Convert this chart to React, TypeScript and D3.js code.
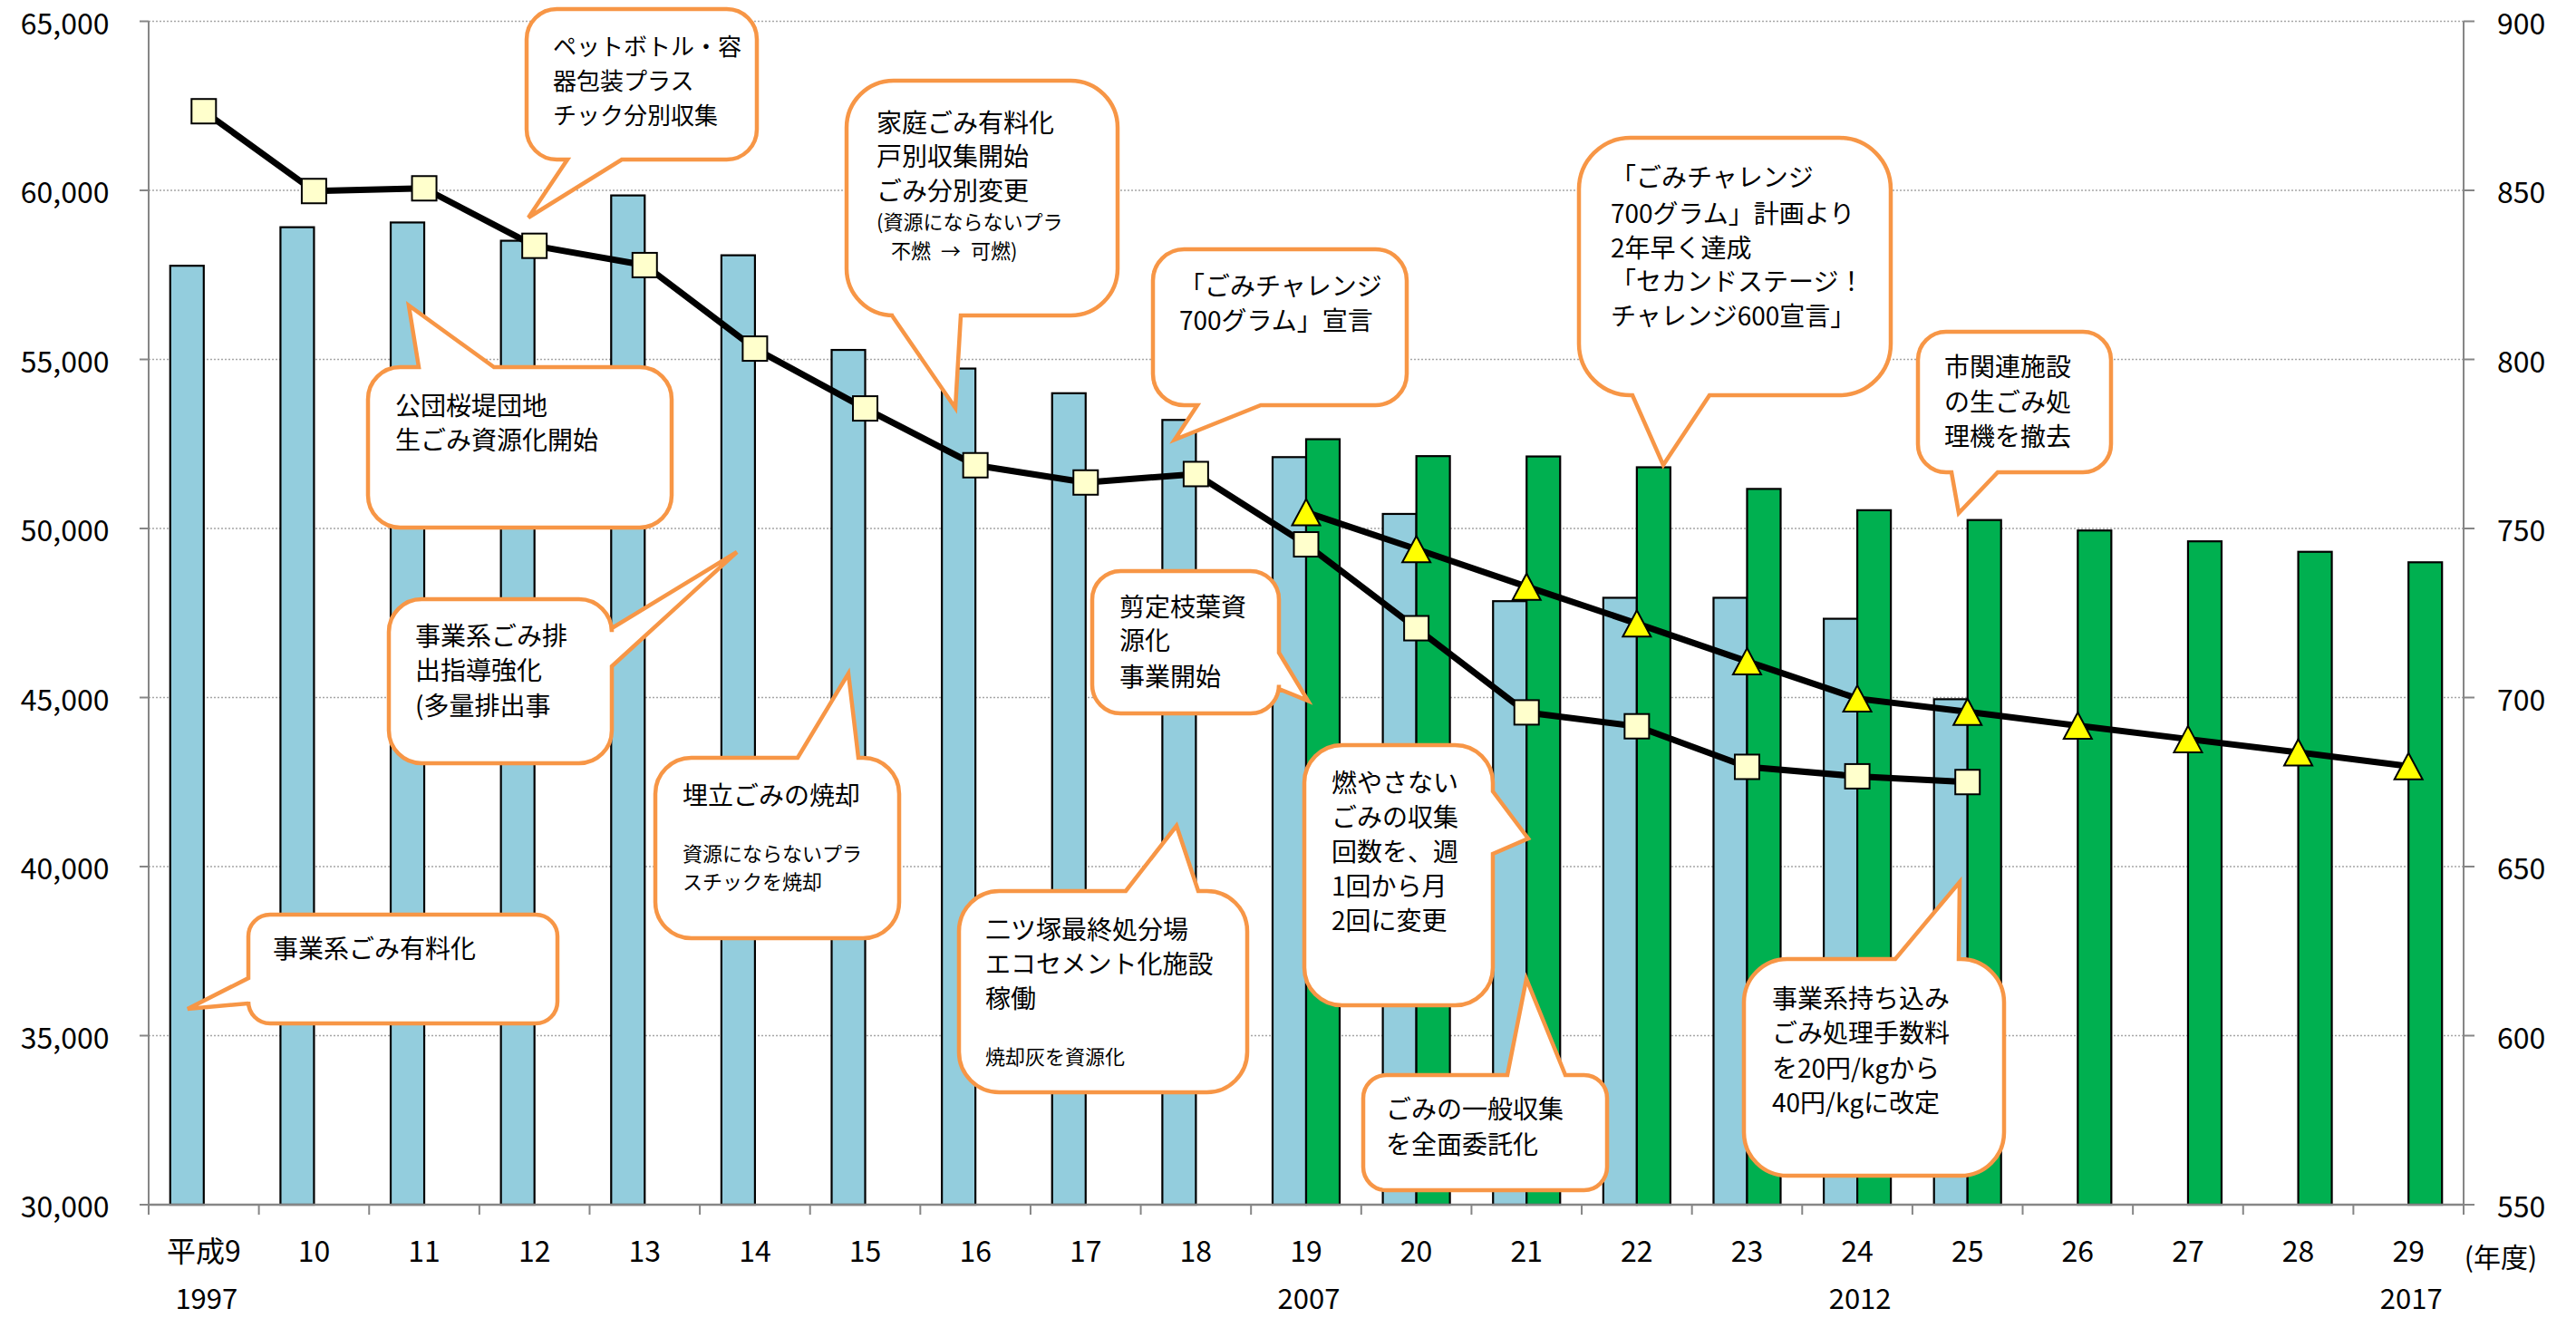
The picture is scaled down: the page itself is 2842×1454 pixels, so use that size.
import React from 'react';
import * as d3 from 'd3';

// 年度 (category axis)
const categories = ['平成9', '10', '11', '12', '13', '14', '15', '16', '17', '18', '19', '20', '21', '22', '23', '24', '25', '26', '27', '28', '29'];
const westernYears = ['1997', '', '', '', '', '', '', '', '', '', '2007', '', '', '', '', '2012', '', '', '', '', '2017'];

// left axis (t)
const totalWaste = [57770, 58910, 59050, 58510, 59850, 58080, 55280, 54730, 54000, 53210, 52110, 50430, 47850, 47950, 47950, 47330, 44950, null, null, null, null];
const totalWasteNew = [null, null, null, null, null, null, null, null, null, null, 52640, 52140, 52130, 51810, 51170, 50540, 50250, 49940, 49620, 49310, 49000];

// right axis (g)
const perCapita = [873.4, 849.8, 850.6, 833.6, 827.9, 803.2, 785.5, 768.7, 763.6, 766.1, 745.3, 720.5, 695.6, 691.5, 679.5, 676.7, 675.0, null, null, null, null];
const perCapitaNew = [null, null, null, null, null, null, null, null, null, null, 754.8, 743.9, 732.8, 721.9, 710.7, 699.7, 695.8, 691.7, 687.7, 683.8, 679.7];

const leftTicks = [30000, 35000, 40000, 45000, 50000, 55000, 60000, 65000];
const rightTicks = [550, 600, 650, 700, 750, 800, 850, 900];

const W = 2842;
const H = 1454;
const plot = { left: 164, right: 2718, top: 23.5, bottom: 1329 };
const FONT = "'Noto Sans CJK JP', 'Noto Sans', sans-serif";
const ORANGE = '#F79646';

type Line = { t: string; y: number; small?: boolean; dx?: number };
type Callout = {
  x: number; y: number; w: number; h: number;
  side: 'top' | 'bottom' | 'left' | 'right';
  b1: number; b2: number; tip: [number, number];
  tx: number; fs?: number; lines: Line[];
};

// speech-bubble annotations (layout in page pixels)
const callouts: Callout[] = [
  { x: 581, y: 10, w: 254, h: 166, side: 'bottom', b1: 626, b2: 686, tip: [583, 240], tx: 610, fs: 26,
    lines: [{ t: 'ペットボトル・容', y: 49 }, { t: '器包装プラス', y: 87 }, { t: 'チック分別収集', y: 125 }] },
  { x: 406, y: 405, w: 335, h: 177, side: 'top', b1: 462, b2: 545, tip: [451, 337], tx: 436,
    lines: [{ t: '公団桜堤団地', y: 446 }, { t: '生ごみ資源化開始', y: 484 }] },
  { x: 429, y: 661, w: 246, h: 181, side: 'right', b1: 693, b2: 735, tip: [813, 609], tx: 458,
    lines: [{ t: '事業系ごみ排', y: 700 }, { t: '出指導強化', y: 738 }, { t: '(多量排出事', y: 777 }] },
  { x: 723, y: 836, w: 269, h: 199, side: 'top', b1: 880, b2: 947, tip: [936, 743], tx: 753,
    lines: [{ t: '埋立ごみの焼却', y: 876 }, { t: '資源にならないプラ', y: 940, small: true }, { t: 'スチックを焼却', y: 971, small: true }] },
  { x: 274, y: 1009, w: 341, h: 120, side: 'left', b1: 1079, b2: 1107, tip: [207, 1113], tx: 301,
    lines: [{ t: '事業系ごみ有料化', y: 1045 }] },
  { x: 1058, y: 983, w: 318, h: 222, side: 'top', b1: 1242, b2: 1322, tip: [1298, 911], tx: 1087,
    lines: [{ t: '二ツ塚最終処分場', y: 1024 }, { t: 'エコセメント化施設', y: 1062 }, { t: '稼働', y: 1100 }, { t: '焼却灰を資源化', y: 1164, small: true }] },
  { x: 1439, y: 822, w: 208, h: 287, side: 'right', b1: 873, b2: 942, tip: [1686, 925], tx: 1469,
    lines: [{ t: '燃やさない', y: 862 }, { t: 'ごみの収集', y: 900 }, { t: '回数を、週', y: 938 }, { t: '1回から月', y: 976 }, { t: '2回に変更', y: 1014 }] },
  { x: 1504, y: 1186, w: 269, h: 127, side: 'top', b1: 1663, b2: 1727, tip: [1684, 1080], tx: 1529,
    lines: [{ t: 'ごみの一般収集', y: 1222 }, { t: 'を全面委託化', y: 1261 }] },
  { x: 1924, y: 1058, w: 287, h: 239, side: 'top', b1: 2091, b2: 2161, tip: [2162, 973], tx: 1955,
    lines: [{ t: '事業系持ち込み', y: 1100 }, { t: 'ごみ処理手数料', y: 1138 }, { t: 'を20円/kgから', y: 1177 }, { t: '40円/kgに改定', y: 1215 }] },
  { x: 2116, y: 366, w: 213, h: 155, side: 'bottom', b1: 2153, b2: 2204, tip: [2161, 566], tx: 2145,
    lines: [{ t: '市関連施設', y: 403 }, { t: 'の生ごみ処', y: 442 }, { t: '理機を撤去', y: 480 }] },
  { x: 1742, y: 152, w: 344, h: 284, side: 'bottom', b1: 1801, b2: 1886, tip: [1835, 513], tx: 1777,
    lines: [{ t: '「ごみチャレンジ', y: 194 }, { t: '700グラム」計画より', y: 234 }, { t: '2年早く達成', y: 272 }, { t: '「セカンドステージ！', y: 309 }, { t: 'チャレンジ600宣言」', y: 347 }] },
  { x: 1272, y: 275, w: 280, h: 172, side: 'bottom', b1: 1321, b2: 1391, tip: [1296, 485], tx: 1301,
    lines: [{ t: '「ごみチャレンジ', y: 314 }, { t: '700グラム」宣言', y: 352 }] },
  { x: 934, y: 89, w: 299, h: 259, side: 'bottom', b1: 984, b2: 1060, tip: [1054, 450], tx: 967,
    lines: [{ t: '家庭ごみ有料化', y: 134 }, { t: '戸別収集開始', y: 171 }, { t: 'ごみ分別変更', y: 209 },
      { t: '(資源にならないプラ', y: 243, small: true }, { t: '不燃\u2002→\u2002可燃)', y: 275, small: true, dx: 16 }] },
  { x: 1205, y: 630, w: 206, h: 157, side: 'right', b1: 720, b2: 760, tip: [1443, 773], tx: 1235,
    lines: [{ t: '剪定枝葉資', y: 668 }, { t: '源化', y: 705 }, { t: '事業開始', y: 745 }] },
];

function calloutPath(c: Callout) {
  const { x, y, w, h, side, b1, b2, tip } = c;
  const r = Math.min(w, h) * 0.2;
  const t = `L${tip[0]},${tip[1]}`;
  let d = `M${x + r},${y}`;
  if (side === 'top') d += `L${b1},${y}${t}L${b2},${y}`;
  d += `L${x + w - r},${y}A${r},${r} 0 0 1 ${x + w},${y + r}`;
  if (side === 'right') d += `L${x + w},${b1}${t}L${x + w},${b2}`;
  d += `L${x + w},${y + h - r}A${r},${r} 0 0 1 ${x + w - r},${y + h}`;
  if (side === 'bottom') d += `L${b2},${y + h}${t}L${b1},${y + h}`;
  d += `L${x + r},${y + h}A${r},${r} 0 0 1 ${x},${y + h - r}`;
  if (side === 'left') d += `L${x},${b2}${t}L${x},${b1}`;
  d += `L${x},${y + r}A${r},${r} 0 0 1 ${x + r},${y}Z`;
  return d;
}

export default function App() {
  const x0 = d3.scaleBand<string>().domain(categories).range([plot.left, plot.right]);
  const x1 = d3.scaleBand<string>().domain(['old', 'new']).range([0, x0.bandwidth()]).paddingOuter(0.643);
  const yL = d3.scaleLinear().domain([30000, 65000]).range([plot.bottom, plot.top]);
  const yR = d3.scaleLinear().domain([550, 900]).range([plot.bottom, plot.top]);
  const cx = (i: number) => (x0(categories[i]) as number) + x0.bandwidth() / 2;

  const lineGen = d3.line<number | null>()
    .defined(d => d != null)
    .x((_, i) => cx(i))
    .y(d => yR(d as number));

  const boundaries = categories.map(c => x0(c) as number).concat([plot.right]);

  const bar = (vals: (number | null)[], key: string, fill: string) =>
    vals.map((v, i) => v == null ? null : (
      <rect key={key + i}
        x={(x0(categories[i]) as number) + (x1(key) as number)}
        y={yL(v)}
        width={x1.bandwidth()}
        height={plot.bottom - yL(v)}
        fill={fill} stroke="#000" strokeWidth={2.2} />
    ));

  return (
    <svg width={W} height={H} style={{ position: 'absolute', left: 0, top: 0, background: '#fff' }} fontFamily={FONT}>
      <rect width={W} height={H} fill="#fff" />
      {/* gridlines */}
      {leftTicks.map(t => (
        <line key={'g' + t} x1={plot.left} x2={plot.right} y1={yL(t)} y2={yL(t)}
          stroke="#A6A6A6" strokeWidth={1.5} strokeDasharray="2,2" />
      ))}

      {/* bars */}
      {bar(totalWaste, 'old', '#93CDDD')}
      {bar(totalWasteNew, 'new', '#00B050')}

      {/* axes */}
      <line x1={plot.left} x2={plot.left} y1={plot.top} y2={plot.bottom + 11} stroke="#868686" strokeWidth={2} />
      <line x1={plot.right} x2={plot.right} y1={plot.top} y2={plot.bottom + 11} stroke="#868686" strokeWidth={2} />
      <line x1={plot.left} x2={plot.right} y1={plot.bottom} y2={plot.bottom} stroke="#868686" strokeWidth={2.5} />
      {leftTicks.map(t => (
        <g key={'lt' + t}>
          <line x1={plot.left - 10} x2={plot.left} y1={yL(t)} y2={yL(t)} stroke="#868686" strokeWidth={2} />
          <text x={120.5} y={yL(t)} textAnchor="end" dominantBaseline="central" fontSize={32} fill="#000">
            {d3.format(',')(t)}
          </text>
        </g>
      ))}
      {rightTicks.map(t => (
        <g key={'rt' + t}>
          <line x1={plot.right} x2={plot.right + 12} y1={yR(t)} y2={yR(t)} stroke="#868686" strokeWidth={2} />
          <text x={2755} y={yR(t)} textAnchor="start" dominantBaseline="central" fontSize={32} fill="#000">
            {t}
          </text>
        </g>
      ))}
      {boundaries.map((b, i) => (
        <line key={'bt' + i} x1={b} x2={b} y1={plot.bottom} y2={plot.bottom + 11} stroke="#868686" strokeWidth={2} />
      ))}
      {categories.map((c, i) => (
        <text key={'c' + i} x={cx(i)} y={1377.5} textAnchor="middle" dominantBaseline="central" fontSize={32} fill="#000">{c}</text>
      ))}
      {westernYears.map((c, i) => c ? (
        <text key={'y' + i} x={cx(i) + 3} y={1430} textAnchor="middle" dominantBaseline="central" fontSize={31} fill="#000">{c}</text>
      ) : null)}
      <text x={2759} y={1385} textAnchor="middle" dominantBaseline="central" fontSize={30} fill="#000">(年度)</text>

      {/* lines */}
      <path d={lineGen(perCapita) || ''} fill="none" stroke="#000" strokeWidth={7} strokeLinejoin="round" />
      <path d={lineGen(perCapitaNew) || ''} fill="none" stroke="#000" strokeWidth={7} strokeLinejoin="round" />
      {perCapita.map((v, i) => v == null ? null : (
        <rect key={'s' + i} x={cx(i) - 13.5} y={yR(v) - 13.5} width={27} height={27}
          fill="#FFFFCC" stroke="#000" strokeWidth={2} />
      ))}
      {perCapitaNew.map((v, i) => v == null ? null : (
        <path key={'tr' + i} transform={`translate(${cx(i)},${yR(v)})`}
          d="M0,-14.5L15.5,14.5L-15.5,14.5Z" fill="#FFFF00" stroke="#000" strokeWidth={2} strokeLinejoin="miter" />
      ))}

      {/* callouts */}
      {callouts.map((c, i) => (
        <g key={'co' + i}>
          <path d={calloutPath(c)} fill="#fff" stroke={ORANGE} strokeWidth={4.5} strokeLinejoin="miter" />
          {c.lines.map((l, j) => (
            <text key={j} x={c.tx + (l.dx || 0)} y={l.y} dominantBaseline="central"
              fontSize={l.small ? 22 : (c.fs || 28)} fill="#000">{l.t}</text>
          ))}
        </g>
      ))}
    </svg>
  );
}
